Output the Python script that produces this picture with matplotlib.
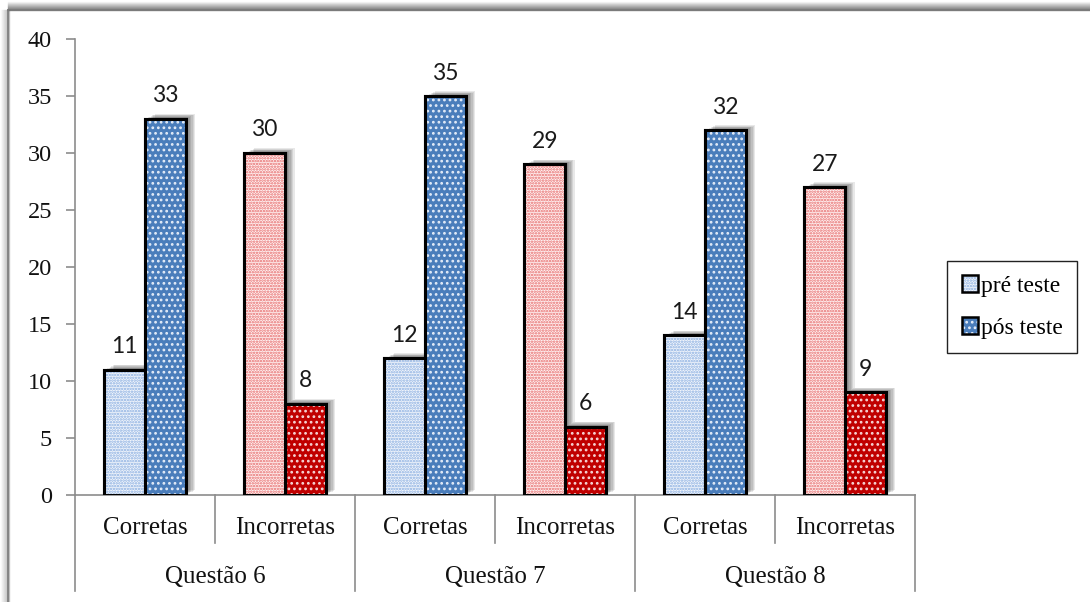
import matplotlib.pyplot as plt
import matplotlib.patheffects as pe
import matplotlib.transforms as mtransforms
from matplotlib.lines import Line2D
from matplotlib.patches import Patch
import numpy as np

categorias = ["Corretas", "Incorretas", "Corretas", "Incorretas", "Corretas", "Incorretas"]
questoes = ["Questão 6", "Questão 7", "Questão 8"]
pre_teste = [11, 30, 12, 29, 14, 27]
pos_teste = [33, 8, 35, 6, 32, 9]

plt.rcParams["font.family"] = "serif"
plt.rcParams["font.serif"] = ["Liberation Serif", "DejaVu Serif"]
plt.rcParams["hatch.linewidth"] = 1.2
SANS = ["Lato", "DejaVu Sans"]

# fill / dot colours: (face, dots)
pre_azul = ("#f2f6fc", "#88ade0")
pos_azul = ("#4a7dbb", "#e4ecf8")
pre_verm = ("#fff3f3", "#e66a6a")
pos_verm = ("#c00000", "#f6d6d6")

fig = plt.figure(figsize=(10.9, 6.02), dpi=100)
W, H = 1090, 602
ax = fig.add_axes([75 / W, 1 - 495 / H, 840 / W, 456 / H])

x = np.arange(len(categorias))
largura = 0.29

sombra = [pe.SimplePatchShadow(offset=(k, 0.5 * k), shadow_rgbFace="#000000", alpha=0.09)
          for k in range(1, 8)] + [pe.Normal()]


def barras(pos, valores, estilos, hatch):
    for xi, v, (fc, dc) in zip(pos, valores, estilos):
        contorno = ax.bar(xi, v, largura, facecolor="none", edgecolor="black",
                          linewidth=2.2, zorder=2)
        contorno[0].set_path_effects(sombra)
        ax.bar(xi, v, largura, facecolor=fc, edgecolor=dc, hatch=hatch,
               linewidth=0, zorder=3)
        ax.bar(xi, v, largura, facecolor="none", edgecolor="black",
               linewidth=2.2, zorder=4)
        ax.annotate(str(v), (xi, v), xytext=(0, 9), textcoords="offset points",
                    ha="center", va="bottom", fontsize=16.5, family=SANS,
                    color="#1a1a1a")


est_pre = [pre_azul if c == "Corretas" else pre_verm for c in categorias]
est_pos = [pos_azul if c == "Corretas" else pos_verm for c in categorias]
barras(x - largura / 2, pre_teste, est_pre, "......")
barras(x + largura / 2, pos_teste, est_pos, "...")

ax.set_xlim(-0.5, len(categorias) - 0.5)
ax.set_ylim(0, 40)
ax.set_yticks(range(0, 41, 5))
ax.set_xticks([])
for s in ["top", "right"]:
    ax.spines[s].set_visible(False)
for s in ["left", "bottom"]:
    ax.spines[s].set_color("#8c8c8c")
    ax.spines[s].set_linewidth(1.2)
ax.tick_params(axis="y", direction="out", length=6.5, width=1.2,
               color="#8c8c8c", pad=10, labelsize=17.5, labelcolor="#111111")

# category labels and dividers below the axis
trans = mtransforms.blended_transform_factory(ax.transData, ax.transAxes)
for xi, c in zip(x, categorias):
    ax.text(xi, -0.072, c, transform=trans, ha="center", va="center",
            fontsize=18, color="#111111")
for g, q in enumerate(questoes):
    ax.text(2 * g + 0.5, -0.18, q, transform=trans, ha="center", va="center",
            fontsize=18, color="#111111")
for b in np.arange(-0.5, len(categorias), 1):
    fundo = -0.21 if int(b + 0.5) % 2 == 0 else -0.105
    ax.add_line(Line2D([b, b], [0, fundo], transform=trans, color="#8c8c8c",
                       linewidth=1.2, clip_on=False))

# legend
h_pre = (Patch(facecolor=pre_azul[0], edgecolor=pre_azul[1], hatch="......", linewidth=0),
         Patch(facecolor="none", edgecolor="black", linewidth=1.8))
h_pos = (Patch(facecolor=pos_azul[0], edgecolor=pos_azul[1], hatch="...", linewidth=0),
         Patch(facecolor="none", edgecolor="black", linewidth=1.8))
leg = fig.legend([h_pre, h_pos], ["pré teste", "pós teste"], loc="center",
                 bbox_to_anchor=(1012 / W, 1 - 307 / H), fancybox=False,
                 edgecolor="#222222", framealpha=1, handlelength=0.7,
                 handleheight=0.7, handletextpad=0.1, labelspacing=0.85,
                 borderpad=0.6, borderaxespad=0, prop={"size": 17})
leg.get_frame().set_linewidth(1.0)

# outer chart frame with soft shadow
for i, a in enumerate(np.linspace(0.04, 0.45, 9)):
    fig.add_artist(Line2D([8 / W, 1], [1 - (2 + i) / H] * 2, color="black",
                          alpha=a, linewidth=1.0))
    fig.add_artist(Line2D([(i + 0.5) / W] * 2, [0, 1 - 10 / H], color="black",
                          alpha=a * 0.5, linewidth=1.0))
fig.add_artist(Line2D([8 / W, 1], [1 - 10 / H] * 2, color="#7a7a7a", linewidth=1.2))
fig.add_artist(Line2D([8 / W] * 2, [0, 1 - 10 / H], color="#7a7a7a", linewidth=1.2))

fig.savefig("out.png", dpi=100)
